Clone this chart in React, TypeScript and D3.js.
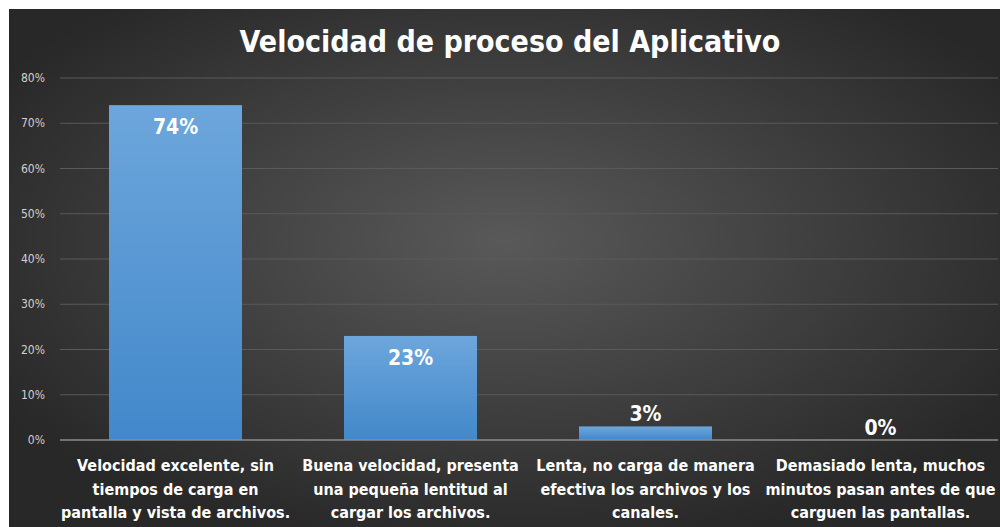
import React from "react";
import * as d3 from "d3";

const categories: string[][] = [
  ["Velocidad excelente, sin", "tiempos de carga en", "pantalla y vista de archivos."],
  ["Buena velocidad, presenta", "una pequeña lentitud al", "cargar los archivos."],
  ["Lenta, no carga de manera", "efectiva los archivos y los", "canales."],
  ["Demasiado lenta, muchos", "minutos pasan antes de que", "carguen las pantallas."],
];
const values: number[] = [0.74, 0.23, 0.03, 0.0];
const labels: string[] = ["74%", "23%", "3%", "0%"];
const yTicks: number[] = [0, 0.1, 0.2, 0.3, 0.4, 0.5, 0.6, 0.7, 0.8];
const title = "Velocidad de proceso del Aplicativo";

const W = 1000;
const H = 527;
const FONT = "'Liberation Sans Narrow', 'DejaVu Sans Condensed', 'Liberation Sans', sans-serif";

export default function App() {
  const x = d3
    .scaleBand<number>()
    .domain(d3.range(categories.length))
    .range([58, 998])
    .paddingInner(0.434)
    .paddingOuter(0.217);
  const y = d3.scaleLinear().domain([0, 0.8]).range([440, 78]);
  const fmt = d3.format(".0%");

  return (
    <svg
      width={W}
      height={H}
      style={{ position: "fixed", top: 0, left: 0, display: "block" }}
    >
      <defs>
        <radialGradient id="bg" cx="50%" cy="45%" r="60%">
          <stop offset="0%" stopColor="#595959" />
          <stop offset="100%" stopColor="#282828" />
        </radialGradient>
        <linearGradient id="bar" x1="0" y1="0" x2="0" y2="1">
          <stop offset="0%" stopColor="#6da6dc" />
          <stop offset="100%" stopColor="#4288ca" />
        </linearGradient>
      </defs>
      <rect x={0} y={0} width={W} height={H} fill="#ffffff" />
      <rect x={9} y={9} width={W - 9} height={H - 9} fill="url(#bg)" />
      <text
        x={510}
        y={52}
        textAnchor="middle"
        fill="#ffffff"
        fontFamily={FONT}
        fontWeight="bold"
        fontSize={30}
      >
        {title}
      </text>
      {yTicks.map((t) => (
        <g key={t}>
          {t > 0 && (
            <line x1={60} x2={998} y1={y(t)} y2={y(t)} stroke="#5a5a5a" strokeWidth={1} />
          )}
          <text
            x={45}
            y={y(t) + 4}
            textAnchor="end"
            fill="#d0d0d0"
            fontFamily={FONT}
            fontSize={12}
          >
            {fmt(t)}
          </text>
        </g>
      ))}
      {values.map((v, i) => (
        <rect
          key={i}
          x={x(i)}
          y={y(v)}
          width={x.bandwidth()}
          height={y(0) - y(v)}
          fill="url(#bar)"
        />
      ))}
      <line x1={60} x2={998} y1={y(0)} y2={y(0)} stroke="#8c8c8c" strokeWidth={1.5} />
      {values.map((v, i) => {
        const inside = y(0) - y(v) > 40;
        const ly = inside ? y(v) + 29 : y(v) - 5;
        return (
          <text
            key={i}
            x={(x(i) as number) + x.bandwidth() / 2}
            y={ly}
            textAnchor="middle"
            fill="#ffffff"
            fontFamily={FONT}
            fontWeight="bold"
            fontSize={21}
          >
            {labels[i]}
          </text>
        );
      })}
      {categories.map((lines, i) => (
        <text
          key={i}
          x={(x(i) as number) + x.bandwidth() / 2}
          textAnchor="middle"
          fill="#ffffff"
          fontFamily={FONT}
          fontWeight="bold"
          fontSize={16}
        >
          {lines.map((ln, j) => (
            <tspan key={j} x={(x(i) as number) + x.bandwidth() / 2} y={471 + j * 23.5}>
              {ln}
            </tspan>
          ))}
        </text>
      ))}
    </svg>
  );
}
